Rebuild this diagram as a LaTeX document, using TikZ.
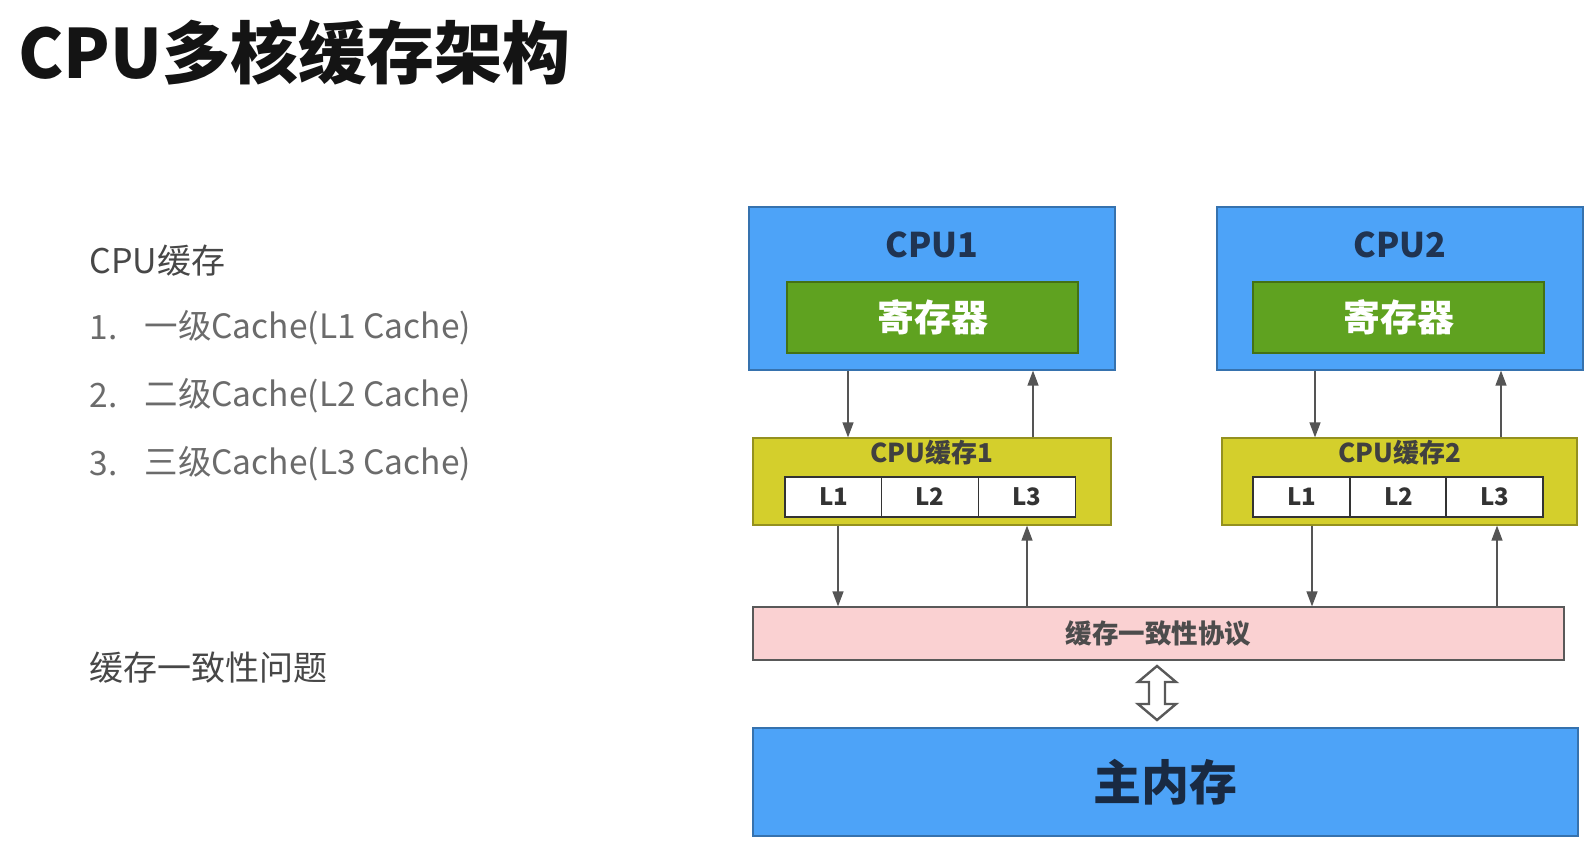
\documentclass[tikz,border=0pt]{standalone}
\usepackage{fontspec}
\setmainfont{Noto Sans CJK SC}
\usetikzlibrary{arrows.meta,calc}
\definecolor{cpublue}{RGB}{77,163,248}
\definecolor{reggreen}{RGB}{95,162,32}
\definecolor{cacheyel}{RGB}{212,207,44}
\definecolor{pinkbox}{RGB}{250,209,210}
\definecolor{navytxt}{RGB}{32,52,82}
\definecolor{linegray}{RGB}{85,85,85}
\tikzset{
  box/.style={draw=#1!70!black, line width=1.2pt, inner sep=0pt},
  cpubox/.style={box=cpublue, fill=cpublue, minimum width=366pt, minimum height=163pt},
  regbox/.style={box=reggreen, fill=reggreen, minimum width=291pt, minimum height=71pt,
     text=white, font=\fontsize{37}{40}\selectfont\bfseries},
  cachebox/.style={box=cacheyel, fill=cacheyel, minimum height=87pt},
  lcell/.style={draw=black!80, line width=1.6pt, fill=white, minimum width=97pt,
     minimum height=40pt, inner sep=0pt, font=\fontsize{24}{26}\selectfont\bfseries, text=black!80},
  cpulabel/.style={font=\fontsize{34}{36}\selectfont\bfseries, text=navytxt},
  cachelabel/.style={font=\fontsize{26}{28}\selectfont\bfseries, text=black!75},
  arr/.style={draw=linegray, line width=1.3pt, -{Triangle[length=15pt,width=11pt]}},
  lefttxt/.style={anchor=west, font=\fontsize{33.5}{36}\selectfont, text=black!58},
  lefthead/.style={anchor=west, font=\fontsize{34}{36}\selectfont, text=black!72},
}
\begin{document}
\begin{tikzpicture}[x=1pt,y=-1pt]
\useasboundingbox[fill=white] (0,0) rectangle (1594,856);
% title
\node[anchor=west, font=\fontsize{68}{72}\selectfont\bfseries, text=black!92] (title) at (15,52) {CPU多核缓存架构};
% left text
\node[lefthead] (h1) at (86,261) {CPU缓存};
\node[lefttxt] (n1) at (86,328) {1.};
\node[lefttxt] (t1) at (141,328) {一级Cache(L1 Cache)};
\node[lefttxt] (n2) at (86,396) {2.};
\node[lefttxt] (t2) at (141,396) {二级Cache(L2 Cache)};
\node[lefttxt] (n3) at (86,464) {3.};
\node[lefttxt] (t3) at (141,464) {三级Cache(L3 Cache)};
\node[lefthead] (h2) at (86,668) {缓存一致性问题};
% CPU1
\node[cpubox] (cpu1) at (932,288.5) {};
\node[cpulabel] (cpu1t) at (932,245) {CPU1};
\node[regbox] (reg1) at (932.5,317.5) {寄存器};
\node[cachebox, minimum width=358pt] (cache1) at (932,481.5) {};
\node[cachelabel] (cache1t) at (932,453) {CPU缓存1};
\node[lcell] (c1a) at (833.5,497) {L1};
\node[lcell] (c1b) at (930,497) {L2};
\node[lcell] (c1c) at (1027,497) {L3};
% CPU2
\node[cpubox] (cpu2) at (1400,288.5) {};
\node[cpulabel] (cpu2t) at (1400,245) {CPU2};
\node[regbox] (reg2) at (1398.5,317.5) {寄存器};
\node[cachebox, minimum width=355pt] (cache2) at (1399.5,481.5) {};
\node[cachelabel] (cache2t) at (1399.5,453) {CPU缓存2};
\node[lcell] (c2a) at (1301.5,497) {L1};
\node[lcell] (c2b) at (1398.5,497) {L2};
\node[lcell] (c2c) at (1494.5,497) {L3};
% coherence protocol
\node[box=pinkbox, fill=pinkbox, draw=black!65, minimum width=811pt, minimum height=53pt,
  font=\fontsize{26.5}{28}\selectfont\bfseries, text=black!70] (proto) at (1158.5,633.5) {缓存一致性协议};
% main memory
\node[cpubox, minimum width=825pt, minimum height=108pt,
  font=\fontsize{48}{50}\selectfont\bfseries, text=navytxt!80!black] (mem) at (1165.5,782) {主内存};
% arrows CPU <-> cache
\coordinate (d1) at (848,0); \coordinate (u1) at (1033,0);
\coordinate (d2) at (1315,0); \coordinate (u2) at (1501,0);
\draw[arr] (cpu1.south -| d1) -- (cache1.north -| d1);
\draw[arr] (cache1.north -| u1) -- (cpu1.south -| u1);
\draw[arr] (cpu2.south -| d2) -- (cache2.north -| d2);
\draw[arr] (cache2.north -| u2) -- (cpu2.south -| u2);
% arrows cache <-> protocol
\coordinate (e1) at (838,0); \coordinate (v1) at (1027,0);
\coordinate (e2) at (1312,0); \coordinate (v2) at (1497,0);
\draw[arr] (cache1.south -| e1) -- (proto.north -| e1);
\draw[arr] (proto.north -| v1) -- (cache1.south -| v1);
\draw[arr] (cache2.south -| e2) -- (proto.north -| e2);
\draw[arr] (proto.north -| v2) -- (cache2.south -| v2);
% hollow double arrow between protocol and memory
\coordinate (da) at (1157,693);
\draw[draw=black!65, line width=2.4pt, fill=white, line join=miter]
  ($(da)+(0,-27)$) -- ($(da)+(19,-11)$) -- ($(da)+(8,-11)$) -- ($(da)+(8,11)$) -- ($(da)+(19,11)$)
  -- ($(da)+(0,27)$) -- ($(da)+(-19,11)$) -- ($(da)+(-8,11)$) -- ($(da)+(-8,-11)$) -- ($(da)+(-19,-11)$) -- cycle;
\end{tikzpicture}
\end{document}
